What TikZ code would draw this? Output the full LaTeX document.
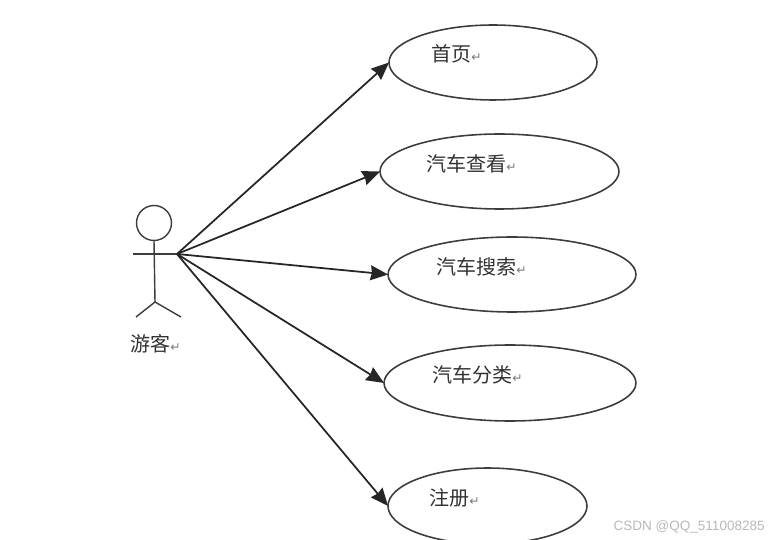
\documentclass[tikz,border=0pt]{standalone}
\usepackage{fontspec}
\usepackage{xcolor}
\setmainfont{Noto Sans CJK SC}
\setsansfont{Liberation Sans}
\newfontfamily\markfont{DejaVu Sans}
\definecolor{linegray}{RGB}{60, 60, 60}
\definecolor{textgray}{RGB}{50, 50, 50}
\definecolor{markgray}{RGB}{120, 120, 120}
\definecolor{wmgray}{RGB}{185, 185, 185}
\newcommand{\retmark}{{\markfont\fontsize{7}{8}\selectfont\textcolor{markgray}{↵}}}
\usetikzlibrary{shapes.geometric, arrows.meta, positioning}
\tikzset{
    usecase/.style={draw=linegray, line width=0.9pt, ellipse, inner sep=0pt, outer sep=0pt},
    caselabel/.style={font=\fontsize{11.4}{13}\selectfont, text=textgray, inner sep=0pt, anchor=west},
    assoc/.style={-{Stealth[length=10pt, width=8.5pt, inset=0.8pt]}, line width=1pt, draw=black!85},
    limb/.style={line width=0.8pt, draw=linegray}
}

\begin{document}
\begin{tikzpicture}[x=0.02cm, y=-0.02cm]
    \useasboundingbox (0, 0) rectangle (781, 540);
    % actor
    \node[draw=linegray, line width=0.8pt, circle, minimum size=0.70cm, inner sep=0pt, outer sep=0pt] (head) at (154, 223) {};
    \coordinate (hip) at (155, 302);
    \coordinate (handL) at (133, 254);
    \coordinate (handR) at (177, 254);
    \coordinate (footL) at (136, 317);
    \coordinate (footR) at (181, 317);
    \draw[limb] (head.south) -- (hip);
    \draw[limb] (handL) -- (handR);
    \draw[limb] (footL) -- (hip) -- (footR);
    \node[caselabel] (visitor) at (130, 344) {游客\retmark};
    % use cases
    \node[usecase, minimum width=4.16cm, minimum height=1.50cm] (home) at (493, 62.5) {};
    \node[usecase, minimum width=4.78cm, minimum height=1.50cm] (view) at (499.5, 171.5) {};
    \node[usecase, minimum width=4.96cm, minimum height=1.50cm] (search) at (512, 274.5) {};
    \node[usecase, minimum width=5.04cm, minimum height=1.52cm] (sort) at (510, 383) {};
    \node[usecase, minimum width=3.98cm, minimum height=1.52cm] (register) at (487.5, 506) {};
    \node[caselabel] (homeT) at (431, 54) {首页\retmark};
    \node[caselabel] (viewT) at (426, 164) {汽车查看\retmark};
    \node[caselabel] (searchT) at (436, 267) {汽车搜索\retmark};
    \node[caselabel] (sortT) at (432, 375) {汽车分类\retmark};
    \node[caselabel] (registerT) at (429, 498) {注册\retmark};
    % arrows
    \draw[assoc] (handR) -- (home.west);
    \draw[assoc] (handR) -- (view.west);
    \draw[assoc] (handR) -- (search.west);
    \draw[assoc] (handR) -- (sort.west);
    \draw[assoc] (handR) -- (register.west);
    % watermark
    \node[font=\sffamily\fontsize{7.7}{9}\selectfont, text=wmgray, inner sep=0pt, anchor=east] (mark) at (765, 527) {CSDN @QQ\_511008285};
\end{tikzpicture}
\end{document}
